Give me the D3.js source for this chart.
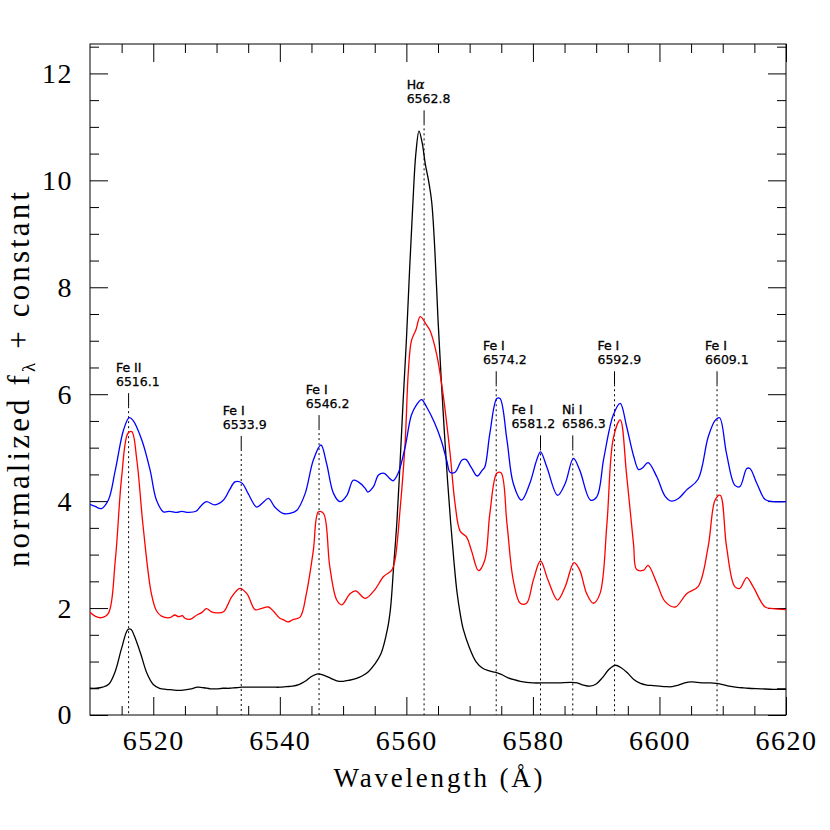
<!DOCTYPE html>
<html><head><meta charset="utf-8">
<script src="https://cdn.jsdelivr.net/npm/d3@7"></script>
<style>html,body{margin:0;padding:0;background:#fff;}</style>
</head><body><svg id="c" width="830" height="830"></svg>
<script>
// ---- data ----
const waveBlack = [6510,6511,6512,6513,6514,6515,6516,6516.5,6517,6518,6519,6520,6521,6522,6523,6524,6525,6526,6527,6528,6529,6530,6531,6532,6533,6534,6535,6536,6537,6538,6539,6540,6541,6542,6543,6544,6545,6546,6547,6548,6549,6550,6551,6552,6553,6554,6555,6556,6557,6557.5,6558,6558.5,6559,6559.5,6560,6560.5,6561,6561.5,6562,6562.5,6563,6563.5,6564,6564.5,6565,6565.5,6566,6566.5,6567,6567.5,6568,6568.5,6569,6570,6571,6572,6573,6574,6575,6576,6577,6578,6579,6580,6582,6584,6586,6587,6588,6589,6590,6591,6592,6593,6594,6595,6596,6597,6598,6599,6600,6601,6602,6603,6604,6605,6606,6607,6608,6609,6610,6611,6612,6613,6614,6616,6618,6620];
const fluxBlack = [0.50,0.50,0.52,0.58,0.82,1.25,1.60,1.60,1.48,1.15,0.78,0.57,0.50,0.48,0.47,0.46,0.47,0.49,0.52,0.51,0.49,0.49,0.50,0.50,0.51,0.52,0.52,0.52,0.52,0.52,0.52,0.52,0.53,0.54,0.57,0.63,0.72,0.77,0.74,0.69,0.64,0.63,0.65,0.68,0.73,0.81,0.95,1.15,1.6,2.0,2.8,3.6,4.7,5.9,7.0,8.3,9.5,10.5,10.92,10.7,10.3,10.0,9.6,8.7,7.4,6.3,5.3,4.4,3.6,2.9,2.3,1.9,1.6,1.25,1.0,0.88,0.83,0.80,0.76,0.70,0.66,0.63,0.61,0.60,0.60,0.60,0.61,0.60,0.56,0.54,0.58,0.70,0.85,0.93,0.88,0.78,0.66,0.59,0.56,0.55,0.54,0.53,0.53,0.56,0.60,0.62,0.61,0.60,0.60,0.59,0.57,0.54,0.52,0.51,0.50,0.49,0.48,0.48];

const waveRed = [6510,6510.8,6511.8,6512.9,6514,6515,6516,6516.6,6517.4,6518.4,6519.7,6520.5,6521.3,6522.6,6523.4,6524,6524.6,6525,6525.8,6526.9,6527.7,6528.4,6529.2,6530,6531.1,6532.4,6533.7,6534.8,6536.1,6537,6538.2,6539,6540,6540.6,6541.3,6542,6543.2,6544.2,6545.3,6546.1,6546.9,6547.9,6549,6549.8,6551.1,6552,6553.5,6555,6556.4,6557.7,6558.2,6559,6559.8,6560.3,6560.8,6561.5,6562.2,6563.2,6563.7,6564.8,6565.8,6566.9,6567.7,6568.5,6569.5,6570.3,6571.4,6572.4,6573.2,6574.3,6574.96,6575.9,6576.9,6578,6579,6580.06,6581.2,6582.4,6583.9,6585.1,6586.5,6587.4,6588.5,6589.55,6590.6,6591.7,6592.7,6593.8,6594.8,6595.9,6596.4,6597.5,6598.2,6599.6,6600.9,6602.5,6604.3,6606.1,6607.7,6608.8,6609.6,6610.6,6611.9,6612.7,6613.8,6614.8,6616.7,6618,6620];
const fluxRed = [1.92,1.85,1.82,1.90,2.90,4.45,5.27,5.30,4.77,3.52,2.27,1.95,1.85,1.82,1.87,1.84,1.86,1.81,1.79,1.87,1.92,1.99,1.93,1.91,1.93,2.21,2.37,2.27,1.97,1.99,2.02,1.94,1.81,1.78,1.74,1.78,1.83,2.27,3.08,3.80,3.77,2.77,2.15,2.06,2.27,2.32,2.18,2.34,2.59,2.71,2.90,3.83,5.08,6.4,7.0,7.2,7.45,7.29,7.2,6.74,6.0,4.9,3.95,3.44,3.33,3.07,2.70,2.90,3.77,4.52,4.53,3.58,2.52,2.09,2.09,2.52,2.88,2.52,2.15,2.40,2.85,2.71,2.27,2.09,2.27,3.58,5.17,5.52,4.5,3.2,2.72,2.71,2.80,2.46,2.12,2.02,2.27,2.40,3.15,4.02,4.11,3.15,2.40,2.37,2.57,2.40,2.02,1.99,1.97];

const waveBlue = [6510,6510.8,6511.8,6512.9,6514,6515.3,6516.2,6516.8,6518.2,6519.5,6520.5,6521.6,6522.6,6523.7,6524.5,6525.5,6526.75,6527.6,6528.4,6529.75,6531.1,6532.1,6532.9,6534,6535,6536.35,6537.3,6538.2,6539.2,6540.5,6541.6,6542.7,6544,6545.3,6546.5,6547.4,6548.5,6549.5,6550.6,6551.6,6552.4,6553.5,6553.9,6554.8,6555.6,6556.5,6557.4,6557.9,6558.7,6559.8,6560.8,6561.6,6562.4,6563.2,6564.4,6565.5,6566.4,6566.9,6567.7,6568.8,6569.4,6570.3,6571.2,6572,6572.4,6573.2,6574.3,6574.8,6575.9,6576.9,6578.2,6579.5,6580.6,6581.2,6582.2,6583.9,6585.1,6586.4,6587.4,6589.1,6590.1,6591.2,6592.7,6593.8,6594.8,6595.9,6596.7,6597.3,6598.2,6599.6,6600.9,6601.9,6603,6604.3,6606.1,6607.7,6608.8,6609.5,6610.6,6611.9,6612.7,6613.8,6614.3,6615.4,6616.7,6618,6620];
const fluxBlue = [3.94,3.90,3.86,4.02,4.58,5.33,5.56,5.51,5.14,4.58,4.02,3.80,3.81,3.79,3.81,3.79,3.81,3.92,3.99,3.93,4.02,4.22,4.36,4.34,4.14,3.89,3.97,4.05,3.89,3.77,3.77,3.83,4.14,4.77,5.05,4.70,4.14,3.99,4.11,4.39,4.36,4.24,4.17,4.27,4.49,4.52,4.42,4.38,4.52,5.01,5.61,5.80,5.90,5.76,5.48,5.14,4.75,4.54,4.54,4.77,4.78,4.62,4.47,4.58,4.64,5.27,5.92,5.92,5.14,4.33,4.02,4.33,4.77,4.92,4.64,4.11,4.33,4.80,4.58,4.02,4.08,4.80,5.61,5.83,5.40,4.85,4.59,4.62,4.72,4.45,4.09,4.00,4.05,4.21,4.41,5.20,5.51,5.56,4.89,4.30,4.27,4.61,4.61,4.33,4.03,3.99,3.99];

const lineWave  = [6516.1, 6533.9, 6546.2, 6562.8, 6574.2, 6581.2, 6586.3, 6592.9, 6609.1];
const lineIon   = ["Fe II","Fe I","Fe I","H","Fe I","Fe I","Ni I","Fe I","Fe I"];
const lineText  = ["6516.1","6533.9","6546.2","6562.8","6574.2","6581.2","6586.3","6592.9","6609.1"];
const labelWave = [6514.1, 6531.0, 6544.1, 6560.05, 6572.1, 6576.6, 6584.6, 6590.2, 6607.2];
const labelLevel= [6.15, 5.35, 5.74, 11.44, 6.56, 5.36, 5.36, 6.56, 6.56];

const xMajor = [6520,6540,6560,6580,6600,6620];
const xMinor = [6515,6525,6530,6535,6545,6550,6555,6565,6570,6575,6585,6590,6595,6605,6610,6615];
const yMajor = [0,2,4,6,8,10,12];
const yMinor = [0.5,1,1.5,2.5,3,3.5,4.5,5,5.5,6.5,7,7.5,8.5,9,9.5,10.5,11,11.5,12.5];

// ---- chart ----
const L=90,R=786,T=44,B=715;
const svg = d3.select("#c");
const x = d3.scaleLinear().domain([6510,6620]).range([L,R]);
const y = d3.scaleLinear().domain([0,12.55]).range([B,T]);
const serif = "'Liberation Serif', 'Times New Roman', serif";

function axis(gen, tx, ty, vals, size, labels){
  const g = svg.append("g").attr("transform",`translate(${tx},${ty})`)
    .call(gen.tickValues(vals).tickSize(-size).tickSizeOuter(0)
      .tickFormat(labels ? d3.format("d") : () => ""));
  g.select(".domain").remove();
  g.selectAll(".tick line").attr("stroke","#000").attr("stroke-width",1);
  return g;
}
// bottom
const gb = axis(d3.axisBottom(x).tickPadding(15), 0, B, xMajor, 18, true);
gb.selectAll("text").attr("font-family",serif).attr("font-size",28).attr("letter-spacing",1.5).attr("fill","#000");
axis(d3.axisBottom(x), 0, B, xMinor, 9, false);
// top
axis(d3.axisTop(x), 0, T, xMajor, 18, false);
axis(d3.axisTop(x), 0, T, xMinor, 9, false);
// left
const gl = axis(d3.axisLeft(y).tickPadding(17), L, 0, yMajor, 18, true);
gl.selectAll("text").attr("font-family",serif).attr("font-size",28).attr("letter-spacing",1.5).attr("fill","#000");
axis(d3.axisLeft(y), L, 0, yMinor.filter(v=>v<12.55), 9, false);
// right
axis(d3.axisRight(y), R, 0, yMajor, 18, false);
axis(d3.axisRight(y), R, 0, yMinor.filter(v=>v<12.55), 9, false);

svg.append("rect").attr("x",L).attr("y",T).attr("width",R-L).attr("height",B-T)
  .attr("fill","none").attr("stroke","#000").attr("stroke-width",1);

// identification lines
const sans = "'DejaVu Sans', sans-serif";
lineWave.forEach((w,i)=>{
  const yb = y(labelLevel[i]);
  const xl = x(w);
  svg.append("line").attr("x1",xl).attr("x2",xl).attr("y1",yb+7).attr("y2",yb+20)
    .attr("stroke","#000").attr("stroke-width",1);
  svg.append("line").attr("x1",xl).attr("x2",xl).attr("y1",yb+20).attr("y2",B)
    .attr("stroke","#000").attr("stroke-width",1).attr("stroke-dasharray","2,3");
  const t1 = svg.append("text").attr("x",x(labelWave[i])).attr("y",yb-14)
    .attr("font-family",sans).attr("font-size",12.5).attr("fill","#000")
    .attr("stroke","#000").attr("stroke-width",0.35);
  if(lineIon[i]==="H"){
    t1.append("tspan").text("H");
    t1.append("tspan").attr("font-style","italic").attr("font-family","'DejaVu Serif', serif").text("α");
  } else t1.text(lineIon[i]);
  svg.append("text").attr("x",x(labelWave[i])).attr("y",yb)
    .attr("font-family",sans).attr("font-size",12.5).attr("fill","#000")
    .attr("stroke","#000").attr("stroke-width",0.25)
    .text(lineText[i]);
});

// spectra
svg.append("clipPath").attr("id","cp").append("rect")
  .attr("x",L).attr("y",T).attr("width",R-L).attr("height",B-T);
const line = d3.line().x(d=>x(d[0])).y(d=>y(d[1])).curve(d3.curveCatmullRom.alpha(0.5));
[[waveBlack,fluxBlack,"#000000"],[waveRed,fluxRed,"#ff0000"],[waveBlue,fluxBlue,"#0000ff"]].forEach(([w,f,c])=>{
  svg.append("path").datum(w.map((v,i)=>[v,f[i]])).attr("d",line)
    .attr("fill","none").attr("stroke",c).attr("stroke-width",1.3)
    .attr("clip-path","url(#cp)");
});

// axis titles
svg.append("text").attr("x",(L+R)/2).attr("y",787).attr("text-anchor","middle")
  .attr("font-family",serif).attr("font-size",27).attr("fill","#000")
  .attr("textLength",209).attr("lengthAdjust","spacing")
  .text("Wavelength (Å)");
const yt = svg.append("text").attr("transform",`translate(29,${(T+B)/2}) rotate(-90)`)
  .attr("text-anchor","middle").attr("font-family",serif).attr("font-size",31).attr("fill","#000")
  .attr("textLength",375).attr("lengthAdjust","spacing");
yt.append("tspan").text("normalized f");
yt.append("tspan").attr("font-size",19).attr("dy",6).text("λ");
yt.append("tspan").attr("dy",-6).text(" + constant");
</script></body></html>
